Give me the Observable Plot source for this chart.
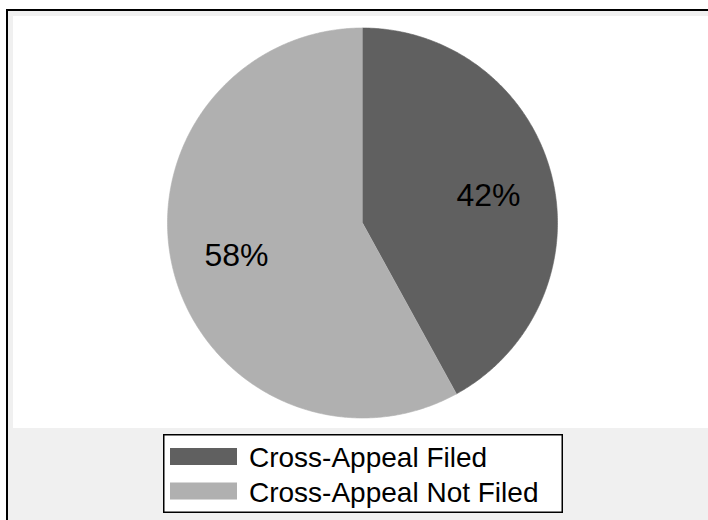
<!DOCTYPE html>
<html>
<head>
<meta charset="utf-8">
<script src="https://cdn.jsdelivr.net/npm/d3@7"></script>
<script src="https://cdn.jsdelivr.net/npm/@observablehq/plot@0.6"></script>
<style>
  html, body { margin: 0; padding: 0; background: #ffffff; overflow: hidden; width: 708px; height: 520px; }
  #frame { position: absolute; left: 6px; top: 9px; width: 800px; height: 600px;
           border-left: 2px solid #000; border-top: 2px solid #000; background: #f0f0f0; }
  #plot { position: absolute; left: 13px; top: 16px; }
  #legend { position: absolute; left: 163px; top: 434px; }
  text { font-family: "Liberation Sans", Arial, sans-serif; }
</style>
</head>
<body>
<div id="frame"></div>
<div id="plot"></div>
<div id="legend"></div>
<script>
// ---- data ----
const categories = ["Cross-Appeal Filed", "Cross-Appeal Not Filed"];
const shares = [42, 58];
const sliceLabels = ["42%", "58%"];
const colors = ["#606060", "#b0b0b0"];

// ---- geometry derived from the shares (angles clockwise from 12 o'clock) ----
const total = d3.sum(shares);
let acc = 0;
const slices = categories.map((c, i) => {
  const a0 = acc / total * 2 * Math.PI;
  acc += shares[i];
  const a1 = acc / total * 2 * Math.PI;
  return { category: c, a0, a1, label: sliceLabels[i] };
});
const points = [];
for (const s of slices) {
  points.push({ category: s.category, x: 0, y: 0 });
  const n = Math.max(2, Math.ceil((s.a1 - s.a0) / (Math.PI / 360)));
  for (let k = 0; k <= n; k++) {
    const a = s.a0 + (s.a1 - s.a0) * k / n;
    points.push({ category: s.category, x: Math.sin(a), y: Math.cos(a) });
  }
}
const labelFracX = 0.667, labelFracY = 0.62;
const labelData = slices.map(s => {
  const m = (s.a0 + s.a1) / 2;
  return { x: labelFracX * Math.sin(m), y: labelFracY * Math.cos(m), text: s.label };
});

const cx = 349, cy = 206.5, r = 195;
const chart = Plot.plot({
  width: 695,
  height: 412,
  margin: 0,
  style: { background: "#ffffff", fontFamily: "'Liberation Sans', Arial, sans-serif" },
  x: { domain: [-1, 1], range: [cx - r, cx + r], axis: null },
  y: { domain: [-1, 1], range: [cy + r, cy - r], axis: null },
  color: { domain: categories, range: colors },
  marks: [
    Plot.line(points, { x: "x", y: "y", z: "category", fill: "category", stroke: "category", strokeWidth: 0.6 }),
    Plot.text(labelData, { x: "x", y: "y", text: "text", fontSize: 32, fill: "#000", dy: 3 })
  ]
});
document.getElementById("plot").appendChild(chart);

// ---- legend ----
const lw = 400, lh = 79;
const leg = d3.select("#legend").append("svg")
  .attr("width", lw).attr("height", lh);
leg.append("rect").attr("x", 0.75).attr("y", 0.75).attr("width", lw - 1.5).attr("height", lh - 1.5)
  .attr("fill", "#fff").attr("stroke", "#000").attr("stroke-width", 1.5);
categories.forEach((c, i) => {
  leg.append("rect").attr("x", 7).attr("y", 14 + i * 34.5).attr("width", 67).attr("height", 17)
    .attr("fill", colors[i]);
  leg.append("text").attr("x", 86).attr("y", 32.5 + i * 35).attr("font-size", 28)
    .attr("fill", "#000").text(c);
});
</script>
</body>
</html>
